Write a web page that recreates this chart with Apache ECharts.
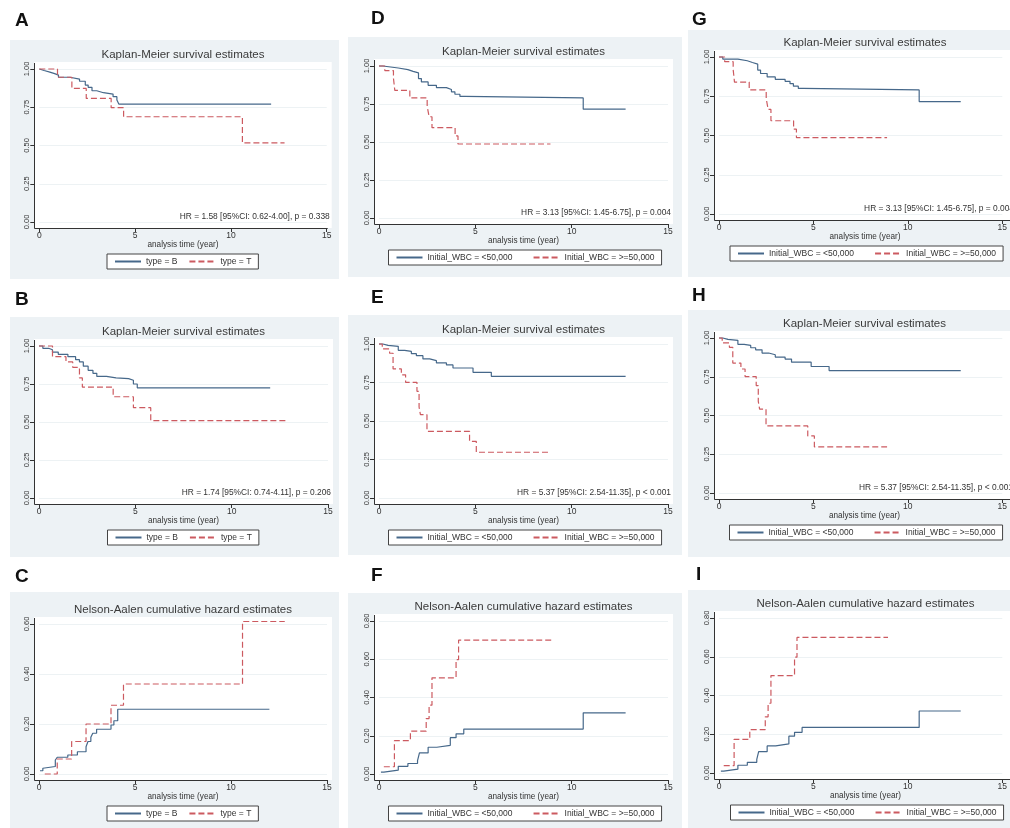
<!DOCTYPE html>
<html><head><meta charset="utf-8">
<script src="https://cdn.jsdelivr.net/npm/echarts@6/dist/echarts.min.js"></script>
<style>html,body{margin:0;padding:0;background:#fff;}#c{width:1010px;height:828px;}</style>
</head><body><div id="c"></div>
<script>
// ---------- DATA ----------
// Panel A: Kaplan-Meier by type
const kmA_B_t = [0, 0.1, 0.25, 0.55, 0.8, 1.0, 1.6, 2.1, 2.4, 2.55, 2.75, 3.0, 3.35, 3.85, 4.05, 4.15, 12.1];
const kmA_B_s = [1, 0.99, 0.98, 0.97, 0.96, 0.946, 0.934, 0.92, 0.895, 0.88, 0.858, 0.845, 0.836, 0.819, 0.797, 0.771, 0.771];
const kmA_T_t = [0, 0.95, 1.7, 2.45, 3.75, 4.4, 10.6, 12.8];
const kmA_T_s = [1, 0.946, 0.873, 0.808, 0.747, 0.688, 0.517, 0.517];
// Panel B: Kaplan-Meier by type
const kmB_B_t = [0, 0.2, 0.5, 0.7, 1.0, 1.5, 1.9, 2.1, 2.3, 2.55, 2.8, 3.0, 3.5, 4.0, 4.65, 4.9, 5.1, 12.0];
const kmB_B_s = [1, 0.985, 0.975, 0.96, 0.945, 0.93, 0.91, 0.895, 0.867, 0.84, 0.82, 0.80, 0.79, 0.785, 0.775, 0.75, 0.725, 0.725];
const kmB_T_t = [0, 0.7, 1.4, 1.75, 2.1, 2.25, 3.85, 4.9, 5.8, 12.8];
const kmB_T_s = [1, 0.93, 0.895, 0.86, 0.79, 0.73, 0.666, 0.594, 0.509, 0.509];
// Panel C: Nelson-Aalen by type
const naC_B_t = [0.05, 0.2, 0.3, 0.85, 0.95, 1.5, 2.0, 2.45, 2.55, 2.7, 2.8, 3.0, 3.75, 3.9, 4.1, 12.0];
const naC_B_h = [0.013, 0.023, 0.03, 0.056, 0.067, 0.076, 0.089, 0.109, 0.13, 0.147, 0.163, 0.179, 0.196, 0.213, 0.259, 0.259];
const naC_T_t = [0.3, 0.95, 1.7, 2.45, 3.75, 4.4, 10.6, 12.8];
const naC_T_h = [0, 0.06, 0.13, 0.20, 0.275, 0.36, 0.61, 0.61];
// Panels D and G: Kaplan-Meier by initial WBC
const kmD_low_t = [0, 0.2, 1.0, 1.5, 1.77, 2.05, 2.2, 2.55, 2.98, 3.5, 3.76, 3.94, 4.2, 4.46, 10.6, 12.8];
const kmD_low_s = [1, 0.987, 0.976, 0.965, 0.955, 0.917, 0.895, 0.873, 0.858, 0.845, 0.83, 0.814, 0.80, 0.79, 0.716, 0.716];
const kmD_high_t = [0, 0.3, 0.75, 0.82, 1.6, 2.5, 2.6, 2.75, 3.95, 4.1, 8.9];
const kmD_high_s = [1, 0.97, 0.92, 0.84, 0.79, 0.736, 0.666, 0.594, 0.54, 0.487, 0.487];
// Panels E and H: Kaplan-Meier by initial WBC
const kmE_low_t = [0, 0.2, 0.47, 1.0, 1.33, 1.68, 1.94, 2.28, 2.63, 2.98, 3.5, 3.84, 4.88, 5.83, 12.8];
const kmE_low_s = [1, 0.991, 0.985, 0.959, 0.952, 0.937, 0.924, 0.903, 0.892, 0.877, 0.864, 0.844, 0.816, 0.79, 0.79];
const kmE_high_t = [0, 0.17, 0.55, 0.73, 1.16, 1.38, 1.97, 2.08, 2.15, 2.49, 4.7, 5.05, 8.9];
const kmE_high_s = [1, 0.968, 0.94, 0.838, 0.8, 0.751, 0.693, 0.591, 0.541, 0.433, 0.368, 0.297, 0.297];
// Panels F and I: Nelson-Aalen by initial WBC
const naF_low_t = [0.1, 0.25, 1.0, 1.5, 2.0, 2.1, 2.55, 3.0, 3.7, 4.0, 4.4, 10.6, 12.8];
const naF_low_h = [0.01, 0.02, 0.04, 0.055, 0.07, 0.11, 0.14, 0.15, 0.19, 0.21, 0.235, 0.32, 0.32];
const naF_high_t = [0.25, 0.8, 1.63, 2.45, 2.6, 2.75, 4.0, 4.13, 8.95];
const naF_high_h = [0.038, 0.174, 0.224, 0.29, 0.36, 0.503, 0.598, 0.70, 0.70];

const xTickLabels = [0, 5, 10, 15];
const legendType = ['type = B', 'type = T'];
const legendWBC = ['Initial_WBC = <50,000', 'Initial_WBC = >=50,000'];
const hrA = 'HR = 1.58 [95%CI: 0.62-4.00], p = 0.338';
const hrB = 'HR = 1.74 [95%CI: 0.74-4.11], p = 0.206';
const hrD = 'HR = 3.13 [95%CI: 1.45-6.75], p = 0.004';
const hrE = 'HR = 5.37 [95%CI: 2.54-11.35], p < 0.001';
const titleKM = 'Kaplan-Meier survival estimates';
const titleNA = 'Nelson-Aalen cumulative hazard estimates';
const xTitle = 'analysis time (year)';

// ---------- LAYOUT ----------
const KM = {ymax: 1, step: 0.25};
const NA6 = {ymax: 0.6, step: 0.2};
const NA8 = {ymax: 0.8, step: 0.2};
const panels = [
  {L:'A', bg:[10,40,339,279], lp:[15,21], x0:39.3, x15:326.7, yt:69, y0:222, ax:KM, title:titleKM, leg:legendType, lw:152, hr:hrA, d:[[kmA_B_t,kmA_B_s],[kmA_T_t,kmA_T_s]]},
  {L:'B', bg:[10,317,339,557], lp:[15,300], x0:39, x15:328, yt:346, y0:498, ax:KM, title:titleKM, leg:legendType, lw:152, hr:hrB, d:[[kmB_B_t,kmB_B_s],[kmB_T_t,kmB_T_s]]},
  {L:'C', bg:[10,592,339,830], lp:[15,577], x0:39, x15:327, yt:624, y0:774, ax:NA6, title:titleNA, leg:legendType, lw:152, hr:null, d:[[naC_B_t,naC_B_h],[naC_T_t,naC_T_h]]},
  {L:'D', bg:[348,37,682,277], lp:[371,19], x0:379, x15:668, yt:66, y0:218, ax:KM, title:titleKM, leg:legendWBC, lw:274, hr:hrD, d:[[kmD_low_t,kmD_low_s],[kmD_high_t,kmD_high_s]]},
  {L:'E', bg:[348,315,682,555], lp:[371,298], x0:379, x15:668, yt:344, y0:498, ax:KM, title:titleKM, leg:legendWBC, lw:274, hr:hrE, d:[[kmE_low_t,kmE_low_s],[kmE_high_t,kmE_high_s]]},
  {L:'F', bg:[348,593,682,830], lp:[371,576], x0:379, x15:668, yt:621, y0:774, ax:NA8, title:titleNA, leg:legendWBC, lw:274, hr:null, d:[[naF_low_t,naF_low_h],[naF_high_t,naF_high_h]]},
  {L:'G', bg:[688,30,1030,277], lp:[692,20], x0:719, x15:1011, yt:57, y0:214, ax:KM, title:titleKM, leg:legendWBC, lw:274, hr:hrD, d:[[kmD_low_t,kmD_low_s],[kmD_high_t,kmD_high_s]]},
  {L:'H', bg:[688,310,1030,557], lp:[692,296], x0:719, x15:1010, yt:338, y0:493, ax:KM, title:titleKM, leg:legendWBC, lw:274, hr:hrE, d:[[kmE_low_t,kmE_low_s],[kmE_high_t,kmE_high_s]]},
  {L:'I', bg:[688,590,1030,830], lp:[696,575], x0:719, x15:1012, yt:618, y0:773, ax:NA8, title:titleNA, leg:legendWBC, lw:274, hr:null, d:[[naF_low_t,naF_low_h],[naF_high_t,naF_high_h]]}
];

const FONT = '"Liberation Sans", Arial, sans-serif';
const BLUE = '#46688a';
const RED = '#cc5a60';
const BG = '#edf2f5';
const AXC = '#333';

const grid = [], xAxis = [], yAxis = [], series = [], legend = [], graphic = [];
panels.forEach((p, i) => {
  const wl = p.x0 - 5, wr = p.x15 + 5, wt = p.yt - 7, wb = p.y0 + 6;
  grid.push({left: p.x0, top: p.yt, width: p.x15 - p.x0, height: p.y0 - p.yt, containLabel: false});
  xAxis.push({type:'value', gridIndex:i, min:0, max:15, interval:5, offset:6,
    axisLine:{show:false, onZero:false},
    axisTick:{show:true, length:4, lineStyle:{color:AXC}},
    axisLabel:{fontSize:8.5, color:AXC, fontFamily:FONT, margin:3,
      formatter: v => xTickLabels.includes(v) ? String(v) : ''},
    splitLine:{show:false}});
  yAxis.push({type:'value', gridIndex:i, min:0, max:p.ax.ymax, interval:p.ax.step, offset:5,
    axisLine:{show:false, onZero:false},
    axisTick:{show:true, length:4, lineStyle:{color:AXC}},
    axisLabel:{fontSize:7.5, color:AXC, fontFamily:FONT, margin:3, rotate:90,
      formatter: v => v.toFixed(2)},
    splitLine:{show:true, lineStyle:{color:'#edf2f4', width:1}}});
  p.d.forEach((sd, k) => {
    const t = sd[0], v = sd[1];
    series.push({type:'line', name:p.leg[k], xAxisIndex:i, yAxisIndex:i, step:'end',
      symbol:'none', clip:false, silent:true, animation:false,
      color: k === 0 ? BLUE : RED,
      lineStyle:{color: k === 0 ? BLUE : RED, width:1.2, type: k === 0 ? 'solid' : [6,3]},
      data: t.map((x, j) => [x, v[j]])});
  });
  const cx = (wl + wr) / 2;
  const wide = p.lw > 200;
  legend.push({data: p.leg, left: cx - p.lw / 2 + (wide ? 2 : 0), top: p.y0 + 32, orient:'horizontal',
    itemWidth: 26, itemHeight: 8, itemGap: wide ? 20 : 11,
    padding: [3, 7], borderColor:'#444', borderWidth:1, borderRadius:0,
    backgroundColor:'#ffffff', selectedMode:false,
    itemStyle:{opacity:0, borderWidth:0},
    textStyle:{fontSize:8.5, color:AXC, fontFamily:FONT}});
  // backgrounds
  graphic.push({type:'rect', z:-20, silent:true, shape:{x:p.bg[0], y:p.bg[1], width:p.bg[2]-p.bg[0], height:p.bg[3]-p.bg[1]}, style:{fill:BG}});
  graphic.push({type:'rect', z:-19, silent:true, shape:{x:wl, y:wt, width:wr-wl, height:wb-wt}, style:{fill:'#ffffff'}});
  // axis frame (Stata style L-shaped axes at plot-region edges)
  graphic.push({type:'polyline', z:5, silent:true,
    shape:{points:[[Math.round(wl)+0.5, wt + 1], [Math.round(wl)+0.5, Math.round(wb)+0.5], [p.x15 + 1, Math.round(wb)+0.5]]},
    style:{stroke:AXC, lineWidth:1, fill:null}});
  // texts
  graphic.push({type:'text', z:10, silent:true, x:p.lp[0], y:p.lp[1], style:{text:p.L, font:'bold 19px ' + FONT, fill:'#111', verticalAlign:'middle', align:'left'}});
  graphic.push({type:'text', z:10, silent:true, x:cx, y:wt - 7, style:{text:p.title, font:'11.5px ' + FONT, fill:'#3a3a3a', align:'center', verticalAlign:'middle'}});
  graphic.push({type:'text', z:10, silent:true, x:(p.x0 + p.x15) / 2, y:p.y0 + 23, style:{text:xTitle, font:'8.2px ' + FONT, fill:AXC, align:'center', verticalAlign:'middle'}});
  if (p.hr) graphic.push({type:'text', z:10, silent:true, x:p.x15 + 3, y:p.y0 - 5, style:{text:p.hr, font:'8.4px ' + FONT, fill:AXC, align:'right', verticalAlign:'middle'}});
});

const chart = echarts.init(document.getElementById('c'), null, {renderer:'canvas'});
chart.setOption({animation:false, backgroundColor:'#ffffff', grid, xAxis, yAxis, series, legend, graphic});
</script></body></html>
